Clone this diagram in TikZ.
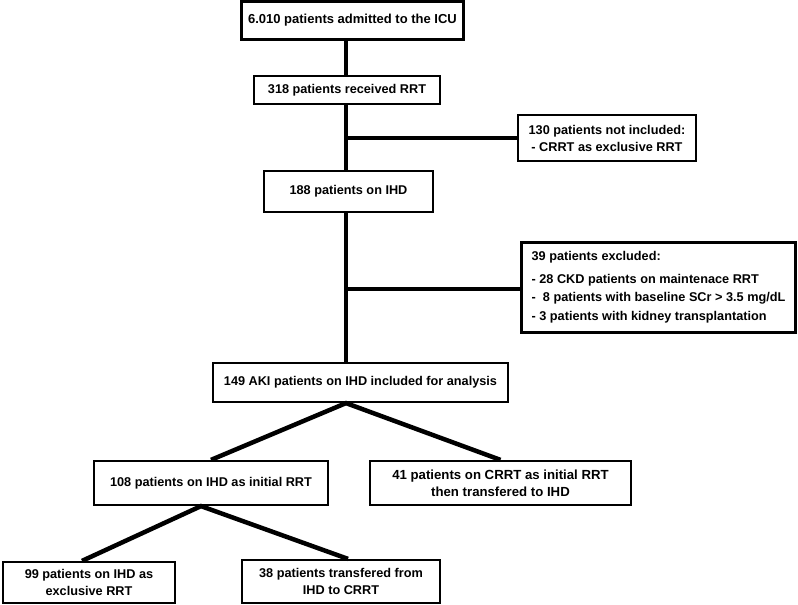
\documentclass[tikz,border=0pt]{standalone}
\usepackage{fontspec}
\setmainfont{Liberation Sans}
\begin{document}
\begin{tikzpicture}[x=1pt,y=-1pt,
  box/.style={draw, line width=2.2pt, align=center, inner sep=0pt,
    font=\fontsize{12.7}{17}\selectfont\bfseries},
  link/.style={line width=4.5pt}]
\useasboundingbox (0,0) rectangle (798,605);
\node[box, minimum width=222, minimum height=38, font=\fontsize{13}{17}\selectfont\bfseries] (b1) at (352.5,20.5) {6.010 patients admitted to the ICU};
\node[box, minimum width=186, minimum height=28] (b2) at (347,90) {318 patients received RRT};
\node[box, minimum width=178, minimum height=46] (b3) at (607,138) {130 patients not included:\\- CRRT as exclusive RRT};
\node[box, minimum width=169, minimum height=41] (b4) at (348.5,191.5) {188 patients on IHD};
\node[box, line width=3pt, minimum width=274, minimum height=90, align=left,
  font=\fontsize{12.7}{18.5}\selectfont\bfseries] (b5) at (658.5,287)
  {39 patients excluded:\\[4pt]- 28 CKD patients on maintenace RRT\\-\ \ 8 patients with baseline SCr > 3.5 mg/dL\\- 3 patients with kidney transplantation};
\node[box, minimum width=295, minimum height=39] (b6) at (360.5,382.5) {149 AKI patients on IHD included for analysis};
\node[box, minimum width=234, minimum height=44] (b7) at (211,483) {108 patients on IHD as initial RRT};
\node[box, minimum width=261, minimum height=44, font=\fontsize{13.2}{17}\selectfont\bfseries] (b8) at (500.5,483) {41 patients on CRRT as initial RRT\\then transfered to IHD};
\node[box, minimum width=172, minimum height=41] (b9) at (89,582.5) {99 patients on IHD as\\exclusive RRT};
\node[box, minimum width=198, minimum height=43] (b10) at (341,581.5) {38 patients transfered from\\IHD to CRRT};
\coordinate (t) at (346,0);
\coordinate (j1) at (346,138);
\coordinate (j2) at (346,289);
\coordinate (q) at (201,0);
\coordinate (l9) at (82,0);
\coordinate (l10) at (348,0);
\draw[link] (b1.south -| t) -- (b2.north -| t);
\draw[link] (b2.south -| t) -- (b4.north -| t);
\draw[link] (b4.south -| t) -- (b6.north -| t);
\draw[link] (j1) -- (b3.west);
\draw[link] (j2) -- (b5.west |- j2);
\draw[link] (b7.north) -- (b6.south -| t) -- (b8.north);
\draw[link] (b9.north -| l9) -- (b7.south -| q) -- (b10.north -| l10);
\end{tikzpicture}
\end{document}
